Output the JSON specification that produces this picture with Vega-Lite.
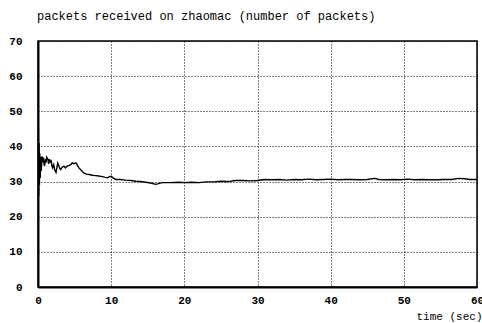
{
  "$schema": "https://vega.github.io/schema/vega-lite/v6.json",
  "width": 439,
  "height": 246,
  "autosize": {"type": "none"},
  "padding": {"left": 38, "top": 41, "right": 5, "bottom": 36},
  "background": "white",
  "title": {
    "text": "packets received on zhaomac (number of packets)",
    "anchor": "start",
    "frame": "group",
    "font": "Liberation Mono",
    "fontSize": 12,
    "fontWeight": "normal",
    "color": "#000",
    "baseline": "alphabetic",
    "offset": 3,
    "dx": -1
  },
  "config": {
    "view": {"stroke": "#000", "strokeWidth": 1.5},
    "axis": {
      "labelFont": "Liberation Mono",
      "labelFontSize": 11,
      "labelFontWeight": "bold",
      "labelColor": "#000",
      "titleFont": "Liberation Mono",
      "titleFontSize": 11,
      "titleFontWeight": "normal",
      "titleColor": "#000",
      "grid": true,
      "gridColor": "#000",
      "gridDash": [1, 2],
      "gridWidth": 1,
      "ticks": false,
      "domainColor": "#000",
      "domainWidth": 2
    }
  },
  "data": {
    "values": [
      {"t": 0.0, "v": 25},
      {"t": 0.05, "v": 45},
      {"t": 0.1, "v": 26},
      {"t": 0.15, "v": 41},
      {"t": 0.2, "v": 29},
      {"t": 0.25, "v": 38},
      {"t": 0.3, "v": 31},
      {"t": 0.38, "v": 37},
      {"t": 0.45, "v": 33},
      {"t": 0.55, "v": 37.2},
      {"t": 0.65, "v": 35.5},
      {"t": 0.73, "v": 36.8},
      {"t": 0.82, "v": 35.0},
      {"t": 0.9, "v": 34.4},
      {"t": 1.0, "v": 36.5},
      {"t": 1.1, "v": 35.4},
      {"t": 1.2, "v": 36.9},
      {"t": 1.36, "v": 36.2},
      {"t": 1.45, "v": 35.0},
      {"t": 1.55, "v": 36.4},
      {"t": 1.68, "v": 35.6},
      {"t": 1.8, "v": 35.9},
      {"t": 1.9, "v": 34.5},
      {"t": 2.0, "v": 33.9},
      {"t": 2.15, "v": 34.8},
      {"t": 2.3, "v": 33.2},
      {"t": 2.46, "v": 32.6},
      {"t": 2.6, "v": 34.2},
      {"t": 2.7, "v": 35.3},
      {"t": 2.85, "v": 34.5},
      {"t": 3.0, "v": 33.6},
      {"t": 3.1, "v": 33.4},
      {"t": 3.3, "v": 34.1},
      {"t": 3.55, "v": 34.4},
      {"t": 3.75, "v": 33.9},
      {"t": 4.0, "v": 34.4},
      {"t": 4.3, "v": 34.6},
      {"t": 4.5, "v": 34.9},
      {"t": 4.7, "v": 35.3},
      {"t": 4.9, "v": 35.1},
      {"t": 5.2, "v": 35.3},
      {"t": 5.4, "v": 34.6},
      {"t": 5.6, "v": 33.9},
      {"t": 5.9, "v": 33.2},
      {"t": 6.3, "v": 32.4},
      {"t": 6.6, "v": 32.1},
      {"t": 7.0, "v": 32.0},
      {"t": 7.4, "v": 31.8},
      {"t": 7.9, "v": 31.7},
      {"t": 8.3, "v": 31.6},
      {"t": 8.8, "v": 31.4},
      {"t": 9.2, "v": 31.2},
      {"t": 9.5, "v": 31.1},
      {"t": 9.8, "v": 31.4},
      {"t": 10.0, "v": 31.5},
      {"t": 10.3, "v": 31.0},
      {"t": 10.6, "v": 30.6},
      {"t": 11.2, "v": 30.6},
      {"t": 12.0, "v": 30.4},
      {"t": 12.7, "v": 30.3},
      {"t": 13.4, "v": 30.1},
      {"t": 14.0, "v": 30.0},
      {"t": 14.7, "v": 29.8},
      {"t": 15.4, "v": 29.6},
      {"t": 16.1, "v": 29.2},
      {"t": 16.6, "v": 29.5},
      {"t": 17.0, "v": 29.7},
      {"t": 18.0, "v": 29.7},
      {"t": 19.3, "v": 29.8},
      {"t": 20.0, "v": 29.7},
      {"t": 21.0, "v": 29.8},
      {"t": 22.0, "v": 29.7},
      {"t": 23.0, "v": 29.9},
      {"t": 24.0, "v": 29.9},
      {"t": 25.0, "v": 30.1},
      {"t": 26.0, "v": 30.0},
      {"t": 27.0, "v": 30.3},
      {"t": 28.0, "v": 30.3},
      {"t": 29.0, "v": 30.2},
      {"t": 30.0, "v": 30.3},
      {"t": 31.0, "v": 30.6},
      {"t": 32.0, "v": 30.5},
      {"t": 33.0, "v": 30.6},
      {"t": 34.0, "v": 30.4},
      {"t": 35.0, "v": 30.6},
      {"t": 36.0, "v": 30.5},
      {"t": 37.0, "v": 30.7},
      {"t": 38.0, "v": 30.5},
      {"t": 39.0, "v": 30.6},
      {"t": 40.0, "v": 30.7},
      {"t": 41.0, "v": 30.5},
      {"t": 42.0, "v": 30.6},
      {"t": 43.0, "v": 30.6},
      {"t": 44.0, "v": 30.5},
      {"t": 45.0, "v": 30.6},
      {"t": 46.0, "v": 30.9},
      {"t": 46.6, "v": 30.6},
      {"t": 47.5, "v": 30.5},
      {"t": 48.5, "v": 30.6},
      {"t": 49.5, "v": 30.5},
      {"t": 50.5, "v": 30.7},
      {"t": 51.5, "v": 30.5},
      {"t": 52.5, "v": 30.6},
      {"t": 53.5, "v": 30.5},
      {"t": 54.5, "v": 30.5},
      {"t": 55.5, "v": 30.6},
      {"t": 56.5, "v": 30.6},
      {"t": 57.5, "v": 30.9},
      {"t": 58.3, "v": 30.8},
      {"t": 59.0, "v": 30.6},
      {"t": 60.0, "v": 30.6}
    ]
  },
  "mark": {"type": "line", "color": "#000", "strokeWidth": 1.4, "clip": true},
  "encoding": {
    "x": {
      "field": "t",
      "type": "quantitative",
      "scale": {"domain": [0, 60], "nice": false, "zero": false},
      "axis": {
        "values": [0, 10, 20, 30, 40, 50, 60],
        "labelPadding": 7,
        "labelFlush": false,
        "title": "time (sec)",
        "titleAnchor": "end",
        "titleAlign": "right",
        "titleBaseline": "alphabetic",
        "titleX": 444,
        "titleY": 32
      }
    },
    "y": {
      "field": "v",
      "type": "quantitative",
      "scale": {"domain": [0, 70], "nice": false},
      "axis": {
        "values": [0, 10, 20, 30, 40, 50, 60, 70],
        "labelPadding": 16,
        "title": null
      }
    }
  }
}
